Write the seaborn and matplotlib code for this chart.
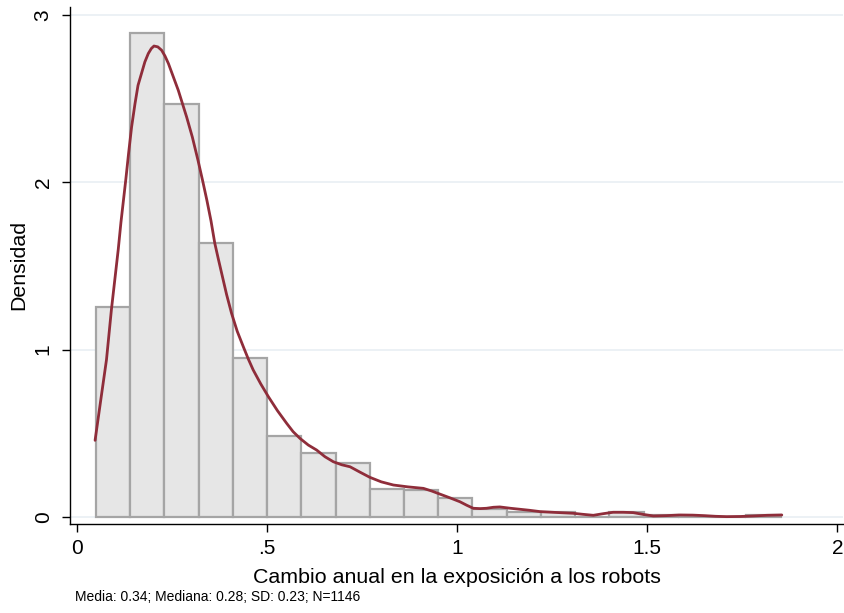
import numpy as np
import pandas as pd
import matplotlib
matplotlib.use("Agg")
import matplotlib.pyplot as plt
import seaborn as sns

# ---- data ----
bin_start = 0.049
bin_width = 0.0901
bar_heights = [1.253, 2.895, 2.470, 1.638, 0.950, 0.486, 0.381, 0.325, 0.169, 0.160,
               0.112, 0.045, 0.032, 0.029, 0.0, 0.032, 0.010, 0.0, 0.0, 0.010]

kde_x = [0.047, 0.062, 0.077, 0.090, 0.100, 0.108, 0.115, 0.121, 0.128, 0.135,
         0.143, 0.152, 0.160, 0.169, 0.178, 0.187, 0.195, 0.202, 0.212, 0.222,
         0.231, 0.240, 0.253, 0.266, 0.277, 0.288, 0.303, 0.318, 0.330, 0.341,
         0.352, 0.362, 0.371, 0.380, 0.393, 0.406, 0.421, 0.437, 0.450, 0.463,
         0.483, 0.503, 0.527, 0.551, 0.568, 0.586, 0.608, 0.630, 0.652, 0.674,
         0.696, 0.718, 0.744, 0.770, 0.800, 0.832, 0.870, 0.911, 0.933, 0.954,
         0.980, 1.007, 1.025, 1.042, 1.060, 1.077, 1.095, 1.112, 1.140, 1.165,
         1.190, 1.218, 1.260, 1.305, 1.330, 1.358, 1.385, 1.410, 1.437, 1.463,
         1.490, 1.516, 1.550, 1.586, 1.620, 1.650, 1.680, 1.709, 1.745, 1.779,
         1.815, 1.854]
kde_y = [0.458, 0.700, 0.940, 1.240, 1.440, 1.600, 1.760, 1.880, 2.020, 2.170,
         2.330, 2.470, 2.580, 2.650, 2.720, 2.770, 2.800, 2.815, 2.810, 2.790,
         2.755, 2.710, 2.630, 2.550, 2.470, 2.390, 2.270, 2.130, 2.010, 1.895,
         1.770, 1.636, 1.545, 1.457, 1.330, 1.218, 1.110, 1.018, 0.945, 0.879,
         0.795, 0.719, 0.635, 0.560, 0.510, 0.470, 0.430, 0.400, 0.360, 0.330,
         0.312, 0.300, 0.268, 0.237, 0.210, 0.191, 0.180, 0.171, 0.155, 0.137,
         0.115, 0.091, 0.070, 0.052, 0.050, 0.052, 0.058, 0.060, 0.052, 0.046,
         0.040, 0.032, 0.027, 0.022, 0.016, 0.010, 0.020, 0.028, 0.028, 0.026,
         0.015, 0.006, 0.008, 0.012, 0.011, 0.008, 0.004, 0.002, 0.003, 0.006,
         0.010, 0.012]

x_ticks = [0, 0.5, 1, 1.5, 2]
x_ticklabels = ["0", ".5", "1", "1.5", "2"]
y_ticks = [0, 1, 2, 3]
y_ticklabels = ["0", "1", "2", "3"]

x_label = "Cambio anual en la exposición a los robots"
y_label = "Densidad"
note = "Media: 0.34; Mediana: 0.28; SD: 0.23; N=1146"

# ---- build ----
edges = [float(bin_start + bin_width * i) for i in range(len(bar_heights) + 1)]
centers = [(edges[i] + edges[i + 1]) / 2 for i in range(len(bar_heights))]
hist_df = pd.DataFrame({"x": centers, "h": bar_heights})
kde_df = pd.DataFrame({"x": kde_x, "y": kde_y})

sns.set_theme(style="white")
plt.rcParams["font.family"] = ["Liberation Sans", "DejaVu Sans"]

fig = plt.figure(figsize=(8.45, 6.13), dpi=100)
ax = fig.add_axes([70 / 845, (613 - 524) / 613, (843 - 70) / 845, (524 - 6.7) / 613])

for yv in y_ticks:
    ax.axhline(yv, color="#e9eff3", linewidth=1.2, zorder=0)

sns.histplot(data=hist_df, x="x", weights="h", bins=edges, stat="count",
             color="#e6e6e6", edgecolor="#a5a5a5", linewidth=1.6, alpha=1,
             ax=ax, zorder=2)
sns.lineplot(data=kde_df, x="x", y="y", color="#8f2d3a", linewidth=2.0,
             ax=ax, zorder=3, sort=True)

ax.set_xlim(-0.019, 2.015)
ax.set_ylim(-0.042, 3.05)
ax.set_xticks(x_ticks)
ax.set_xticklabels(x_ticklabels)
ax.set_yticks(y_ticks)
ax.set_yticklabels(y_ticklabels, rotation=90, va="center")

for s in ["top", "right"]:
    ax.spines[s].set_visible(False)
for s in ["left", "bottom"]:
    ax.spines[s].set_color("black")
    ax.spines[s].set_linewidth(1.0)

ax.tick_params(axis="both", which="major", direction="out", length=5.5, width=1.0,
               color="black", labelsize=15, labelcolor="black",
               bottom=True, left=True)
ax.tick_params(axis="x", pad=5.5)
ax.tick_params(axis="y", pad=7)

ax.set_xlabel(x_label, fontsize=15.4, color="black", labelpad=7)
ax.set_ylabel(y_label, fontsize=15.4, color="black", labelpad=4)
ax.grid(False)

fig.text(75 / 845, 1 - 597 / 613, note, fontsize=10, color="black", va="center", ha="left")

fig.savefig("out.png", dpi=100)
